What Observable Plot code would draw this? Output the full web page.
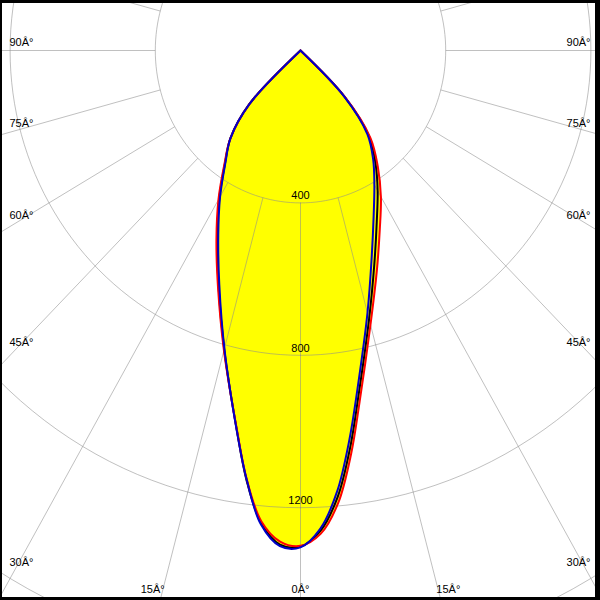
<!DOCTYPE html>
<html><head><meta charset="utf-8">
<script src="https://cdn.jsdelivr.net/npm/d3@7"></script>
<script src="https://cdn.jsdelivr.net/npm/@observablehq/plot@0.6"></script>
<style>
body{margin:0;background:#fff}
#wrap{position:relative;width:600px;height:600px}
#frame{position:absolute;left:0;top:0;width:600px;height:600px;box-sizing:border-box;border-style:solid;border-color:#000;border-width:3px 5px 3px 2px;pointer-events:none}
</style></head><body>
<div id="wrap"><div id="frame"></div></div>
<script>
// gamma angles (deg from nadir)
const angles = [0, 2.5, 5, 7.5, 10, 15, 20, 25, 30, 35, 40, 45, 50];
// luminous intensity (cd) per half-plane
const redLeft    = [1300, 1290, 1240, 1135, 1010, 815, 664, 548, 452, 366, 300, 200, 0];
const redRight   = [1300, 1270, 1192, 1068, 937, 745, 615, 517, 443, 371, 300, 175, 0];
const blackLeft  = [1302, 1298, 1245, 1138, 1011, 812, 660, 542, 447, 363, 300, 200, 0];
const blackRight = [1302, 1262, 1176, 1050, 920, 730, 595, 497, 425, 360, 294, 172, 0];
const blueLeft   = [1304, 1302, 1249, 1136, 1012, 810, 654, 536, 443, 361, 300, 200, 0];
const blueRight  = [1304, 1256, 1161, 1031, 903, 713, 574, 477, 407, 349, 287, 170, 0];
const rings = [400, 800, 1200, 1600];
const ringLabels = [400, 800, 1200];
const spokeAngles = d3.range(0, 360, 15);
const angleTicks = [0, 15, 30, 45, 60, 75, 90];

// layout
const W = 600, H = 600, OX = 300, OY = 50, KX = 0.363, KY = 0.381;
const XMAX = OX / KX, YTOP = OY / KY, YBOT = (H - OY) / KY;
const rad = d => d * Math.PI / 180;

function outline(name, left, right) {
  const pts = [];
  for (let i = angles.length - 1; i >= 0; i--) pts.push({name, a: -angles[i], I: left[i]});
  for (let i = 1; i < angles.length; i++) pts.push({name, a: angles[i], I: right[i]});
  return pts;
}
const curves = [
  {name: "black", color: "#000000", pts: outline("black", blackLeft, blackRight)},
  {name: "red", color: "#ff0000", pts: outline("red", redLeft, redRight)},
  {name: "blue", color: "#0000c8", pts: outline("blue", blueLeft, blueRight)}
];
const cx = d => d.I * Math.sin(rad(d.a));
const cy = d => d.I * Math.cos(rad(d.a));

const ringPts = rings.flatMap(r => d3.range(0, 361, 2).map(a => ({r, x: r * Math.sin(rad(a)), y: r * Math.cos(rad(a))})));

function exitPoint(a, side) {
  const ux = side * Math.sin(rad(a)), uy = Math.cos(rad(a));
  const tx = Math.abs(ux) > 1e-9 ? XMAX / Math.abs(ux) : Infinity;
  const ty = uy > 1e-9 ? YBOT / uy : Infinity;
  const t = Math.min(tx, ty);
  return [ux * t, uy * t];
}
const sideLabels = [], bottomLabels = [];
for (const a of angleTicks) {
  for (const side of (a === 0 ? [1] : [-1, 1])) {
    const [ex, ey] = exitPoint(a, side);
    if (a >= 30) sideLabels.push({side, text: `${a}Â°`, x: side * XMAX, y: 0.954 * ey});
    else bottomLabels.push({text: `${a}Â°`, x: 1.053 * ex, y: YBOT});
  }
}

const font = {fontFamily: "Liberation Sans, Arial, sans-serif", fontSize: 11, fill: "black"};
const gridStyle = {stroke: "#8c8c8c", strokeOpacity: 0.55, strokeWidth: 1};

const plot = Plot.plot({
  width: W, height: H, margin: 0,
  x: {domain: [-XMAX, XMAX], range: [0, W], axis: null},
  y: {domain: [-YTOP, YBOT], range: [0, H], axis: null},
  style: {background: "white", overflow: "hidden"},
  marks: [
    ...curves.map(c => Plot.line(c.pts, {x: cx, y: cy, fill: "#ffff00", stroke: "none", curve: "catmull-rom"})),
    Plot.line(ringPts, {x: "x", y: "y", z: "r", ...gridStyle}),
    Plot.link(spokeAngles, {
      x1: a => 400 * Math.sin(rad(a)), y1: a => 400 * Math.cos(rad(a)),
      x2: a => 3000 * Math.sin(rad(a)), y2: a => 3000 * Math.cos(rad(a)),
      ...gridStyle
    }),
    ...curves.map(c => Plot.line(c.pts, {x: cx, y: cy, stroke: c.color, strokeWidth: 2, curve: "catmull-rom"})),
    Plot.text(ringLabels, {x: 0, y: d => d, text: d => String(d), dy: -7, ...font}),
    Plot.text(sideLabels.filter(d => d.side < 0), {x: "x", y: "y", text: "text", textAnchor: "start", dx: 9, dy: -8, ...font}),
    Plot.text(sideLabels.filter(d => d.side > 0), {x: "x", y: "y", text: "text", textAnchor: "end", dx: -10, dy: -8, ...font}),
    Plot.text(bottomLabels, {x: "x", y: "y", text: "text", textAnchor: "middle", dy: -11.5, ...font})
  ]
});
document.getElementById("wrap").prepend(plot);
</script>
</body></html>
